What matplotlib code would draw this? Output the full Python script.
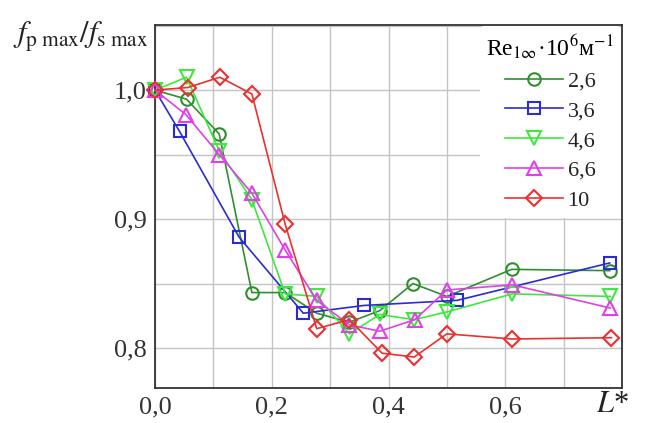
import matplotlib
matplotlib.use("Agg")
import matplotlib.pyplot as plt
from matplotlib.ticker import MultipleLocator, FuncFormatter

plt.rcParams['font.family'] = ['Liberation Serif', 'DejaVu Serif']
plt.rcParams['mathtext.fontset'] = 'stix'

# ---- data ----
labels = ["2,6", "3,6", "4,6", "6,6", "10"]

x_26 = [0.0, 0.054, 0.110, 0.166, 0.223, 0.277, 0.333, 0.385, 0.442, 0.500, 0.611, 0.779]
y_26 = [1.000, 0.993, 0.966, 0.843, 0.843, 0.827, 0.820, 0.829, 0.850, 0.840, 0.861, 0.860]

x_36 = [0.0, 0.042, 0.144, 0.254, 0.358, 0.518, 0.779]
y_36 = [1.000, 0.968, 0.886, 0.827, 0.833, 0.837, 0.866]

x_46 = [0.0, 0.054, 0.110, 0.166, 0.223, 0.277, 0.333, 0.385, 0.444, 0.500, 0.612, 0.780]
y_46 = [1.000, 1.010, 0.953, 0.915, 0.842, 0.840, 0.811, 0.826, 0.822, 0.828, 0.842, 0.840]

x_66 = [0.0, 0.053, 0.110, 0.166, 0.223, 0.277, 0.333, 0.385, 0.445, 0.500, 0.612, 0.780]
y_66 = [1.000, 0.981, 0.950, 0.920, 0.876, 0.837, 0.818, 0.813, 0.822, 0.845, 0.849, 0.831]

x_10 = [0.0, 0.056, 0.111, 0.166, 0.223, 0.277, 0.333, 0.389, 0.444, 0.500, 0.612, 0.782]
y_10 = [1.000, 1.002, 1.010, 0.997, 0.896, 0.815, 0.822, 0.796, 0.793, 0.811, 0.807, 0.808]

xs = [x_26, x_36, x_46, x_66, x_10]
ys = [y_26, y_36, y_46, y_66, y_10]
colors = ["#2f8f2f", "#2b2bd0", "#3ee83e", "#e040e8", "#ec3030"]
markers = ["o", "s", "v", "^", "D"]
msizes = [9, 8.5, 10, 10, 8.5]

x_ticks = [0.0, 0.2, 0.4, 0.6]
y_ticks = [0.8, 0.9, 1.0]

fig = plt.figure(figsize=(6.45, 4.23), dpi=100)
ax = fig.add_axes([155/645, 1-388/423, (622-155)/645, (388-25)/423])

for x, y, c, m, ms, lab in zip(xs, ys, colors, markers, msizes, labels):
    ax.plot(x, y, color=c, marker=m, ms=ms, mfc='none', mec=c, mew=1.5,
            lw=1.2, label=lab, clip_on=False, zorder=3)

ax.set_xlim(0, 0.8)
ax.set_ylim(0.769, 1.0505)
ax.set_xticks(x_ticks)
ax.set_yticks(y_ticks)
ax.xaxis.set_minor_locator(MultipleLocator(0.1))
ax.yaxis.set_minor_locator(MultipleLocator(0.05))
fmt = FuncFormatter(lambda v, p: f"{v:.1f}".replace('.', ','))
ax.xaxis.set_major_formatter(fmt)
ax.yaxis.set_major_formatter(fmt)
ax.grid(True, which='both', color='#c4c4c4', lw=1.0, zorder=0)
ax.set_axisbelow(True)
ax.tick_params(which='both', length=0, labelsize=19, pad=6, colors='#333333')
for s in ax.spines.values():
    s.set_color('#333333')
    s.set_linewidth(1.3)

# axis labels
fig.text(0.02, 0.90, r'$f_{\mathrm{p\ max}}/f_{\mathrm{s\ max}}$', fontsize=22,
         color='#222222')
fig.text(0.95, 0.025, r'$L$*', fontsize=22, color='#222222', ha='center')

leg = ax.legend(title='Re$_{1\\infty}$·10$^{6}$м$^{-1}$', loc='upper right',
                fontsize=16, title_fontsize=17, frameon=True, framealpha=1,
                facecolor='white', edgecolor='none', handlelength=2.6,
                handletextpad=0.2, labelspacing=0.42, borderaxespad=0.05,
                borderpad=0.3, numpoints=1)
leg.set_zorder(5)
for t in leg.get_texts():
    t.set_color('#222222')

fig.savefig("out.png", dpi=100)
